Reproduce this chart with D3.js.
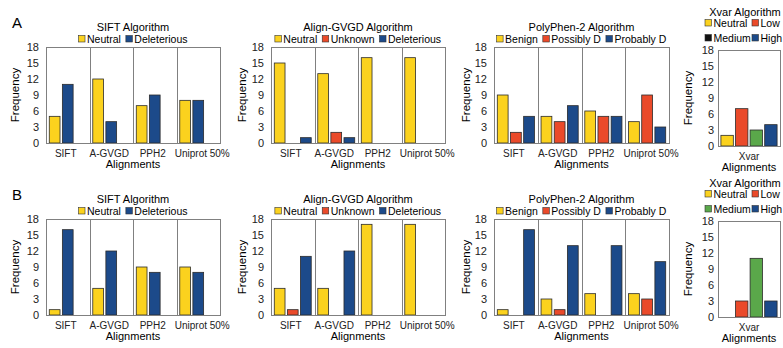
<!DOCTYPE html>
<html>
<head>
<meta charset="utf-8">
<script src="https://cdn.jsdelivr.net/npm/d3@7"></script>
<style>
	body { margin: 0; background: #fff; }
	svg { display: block; font-family: "Liberation Sans", Arial, sans-serif; }
	.frame, .sep { fill: none; stroke: #808080; stroke-width: 1; }
	.bar { stroke: #2b2b2b; stroke-width: 0.8; }
</style>
</head>
<body>
<svg width="783" height="348"></svg>
<script>

// data........................................................................

var categories = ["SIFT", "A-GVGD", "PPH2", "Uniprot 50%"],
	xvarCategories = ["Xvar"],
	yTicks = [0, 3, 6, 9, 12, 15, 18];

var siftSeries = ["Neutral", "Deleterious"],
	gvgdSeries = ["Neutral", "Unknown", "Deleterious"],
	pph2Series = ["Benign", "Possibly D", "Probably D"],
	xvarSeries = ["Neutral", "Low", "Medium", "High"];

// one row per alignment, one value per series
var siftA = [[5, 11], [12, 4], [7, 9], [8, 8]],
	gvgdA = [[15, 0, 1], [13, 2, 1], [16, 0, 0], [16, 0, 0]],
	pph2A = [[9, 2, 5], [5, 4, 7], [6, 5, 5], [4, 9, 3]],
	xvarA = [[2, 7, 3, 4]];

var siftB = [[1, 16], [5, 12], [9, 8], [9, 8]],
	gvgdB = [[5, 1, 11], [5, 0, 12], [17, 0, 0], [17, 0, 0]],
	pph2B = [[1, 0, 16], [3, 1, 13], [4, 0, 13], [4, 3, 10]],
	xvarB = [[0, 3, 11, 3]];

var yellow = "#fbd21e", red = "#ea4a2a", blue = "#1c4a8a", green = "#5aa84a";

// panels......................................................................

var svg = d3.select("svg");

svg.append("text").attr("x", 12).attr("y", 28)
	.style("font-size", "15px").text("A");
svg.append("text").attr("x", 12).attr("y", 200)
	.style("font-size", "15px").text("B");

var rows = [
	{top: 47, bottom: 143, xtop: 50, xbottom: 146, xvarMedium: "#111",
		data: [siftA, gvgdA, pph2A, xvarA]},
	{top: 219, bottom: 315, xtop: 221, xbottom: 317, xvarMedium: green,
		data: [siftB, gvgdB, pph2B, xvarB]}
];

rows.forEach(function(row) {
	drawPanel({title: "SIFT Algorithm", left: 46, right: 220, ylab: 15,
		top: row.top, bottom: row.bottom, cats: categories, series: siftSeries,
		colors: [yellow, blue], slots: 3, values: row.data[0]});
	drawPanel({title: "Align-GVGD Algorithm", left: 271, right: 445, ylab: 242,
		top: row.top, bottom: row.bottom, cats: categories, series: gvgdSeries,
		colors: [yellow, red, blue], slots: 3, values: row.data[1]});
	drawPanel({title: "PolyPhen-2 Algorithm", left: 494, right: 669, ylab: 466,
		top: row.top, bottom: row.bottom, cats: categories, series: pph2Series,
		colors: [yellow, red, blue], slots: 3, values: row.data[2]});
	drawPanel({title: "Xvar Algorithm", left: 718, right: 780, ylab: 688,
		top: row.xtop, bottom: row.xbottom, cats: xvarCategories, series: xvarSeries,
		colors: [yellow, red, green, blue], slots: 4, values: row.data[3],
		legendColors: [yellow, red, row.xvarMedium, blue], twoRows: true});
});

// draw functions..............................................................

function drawPanel(p) {
	var g = svg.append("g"),
		legendColors = p.legendColors || p.colors;

	var y = d3.scaleLinear().domain([0, 18]).range([p.bottom, p.top]);
	var x = d3.scaleBand().domain(p.cats).range([p.left, p.right]);
	var slot = d3.scaleBand()
		.domain(d3.range(p.slots))
		.range([0, x.bandwidth()])
		.paddingInner(p.slots == 4 ? 0.15 : 0.18)
		.paddingOuter(p.slots == 4 ? 0.2 : 0.25);

	// y axis labels, no ticks
	var yAxis = g.append("g")
		.attr("transform", "translate(" + p.left + ",0)")
		.call(d3.axisLeft(y).tickValues(yTicks).tickSize(0)
			.tickPadding(p.slots == 4 ? 4 : 7));
	yAxis.select(".domain").remove();
	yAxis.selectAll("text").style("font-size", "11px").attr("fill", "#222");

	// category labels (the last one sits a little right, as in excel)
	var xAxis = g.append("g")
		.attr("transform", "translate(0," + p.bottom + ")")
		.call(d3.axisBottom(x).tickSize(0).tickPadding(7));
	xAxis.select(".domain").remove();
	xAxis.selectAll("text")
		.style("font-size", "10px")
		.attr("fill", "#222")
		.attr("dx", function(d, i) {
			return p.cats.length > 1 ? (i == p.cats.length - 1 ? 4 : -2) : 0;
		});

	// separators between alignments
	g.selectAll("line.sep")
		.data(p.cats.slice(1))
		.enter().append("line")
			.attr("class", "sep")
			.attr("x1", function(d) { return Math.round(x(d)) + 0.5; })
			.attr("x2", function(d) { return Math.round(x(d)) + 0.5; })
			.attr("y1", p.top)
			.attr("y2", p.bottom);

	// bars
	var bars = [];
	p.values.forEach(function(row, ci) {
		row.forEach(function(v, si) {
			if (v > 0)
				bars.push({cat: p.cats[ci], s: si, v: v});
		});
	});
	g.selectAll("rect.bar")
		.data(bars)
		.enter().append("rect")
			.attr("class", "bar")
			.attr("x", function(d) { return x(d.cat) + slot(d.s); })
			.attr("width", slot.bandwidth())
			.attr("y", function(d) { return y(d.v); })
			.attr("height", function(d) { return y(0) - y(d.v); })
			.attr("fill", function(d) { return p.colors[d.s]; });

	// frame
	g.append("rect")
		.attr("class", "frame")
		.attr("x", p.left + 0.5)
		.attr("y", p.top + 0.5)
		.attr("width", p.right - p.left)
		.attr("height", p.bottom - p.top);

	// axis titles
	var mid = (p.left + p.right) / 2;
	g.append("text")
		.attr("transform", "translate(" + (p.ylab + 4) + "," + ((p.top + p.bottom) / 2) + ") rotate(-90)")
		.attr("text-anchor", "middle")
		.style("font-size", "11.5px")
		.text("Frequency");
	g.append("text")
		.attr("x", mid).attr("y", p.bottom + 25)
		.attr("text-anchor", "middle")
		.style("font-size", "11px")
		.text("Alignments");

	// chart title and legend
	if (!p.twoRows) {
		g.append("text")
			.attr("x", mid).attr("y", p.top - 16)
			.attr("text-anchor", "middle")
			.style("font-size", "11px")
			.text(p.title);
		legendRow(g, p.series, legendColors, mid, p.top - 4, null);
	}
	else {
		g.append("text")
			.attr("x", 745).attr("y", p.top - 34)
			.attr("text-anchor", "middle")
			.style("font-size", "11px")
			.text(p.title);
		legendRow(g, p.series.slice(0, 2), legendColors.slice(0, 2), 705, p.top - 23, 47);
		legendRow(g, p.series.slice(2), legendColors.slice(2), 705, p.top - 8, 47);
	}
}

// legend items: swatch then text, centred on cx (or laid out from cx in columns)
function legendRow(g, names, colors, cx, base, colStep) {
	var item = g.append("g"), pos = 0;

	names.forEach(function(name, i) {
		var it = item.append("g");
		it.append("rect")
			.attr("width", 6.5).attr("height", 6.5)
			.attr("y", base - 7.5)
			.attr("fill", colors[i])
			.attr("stroke", "#333").attr("stroke-width", 0.6);
		var t = it.append("text")
			.attr("x", 8.5).attr("y", base)
			.style("font-size", "10.5px")
			.text(name);
		if (colStep)
			pos = i * colStep;
		it.attr("transform", "translate(" + pos + ",0)");
		pos += 8.5 + t.node().getComputedTextLength() + 5;
	});

	if (colStep)
		item.attr("transform", "translate(" + cx + ",0)");
	else
		item.attr("transform", "translate(" + (cx - (pos - 5) / 2) + ",0)");
}
</script>
</body>
</html>
